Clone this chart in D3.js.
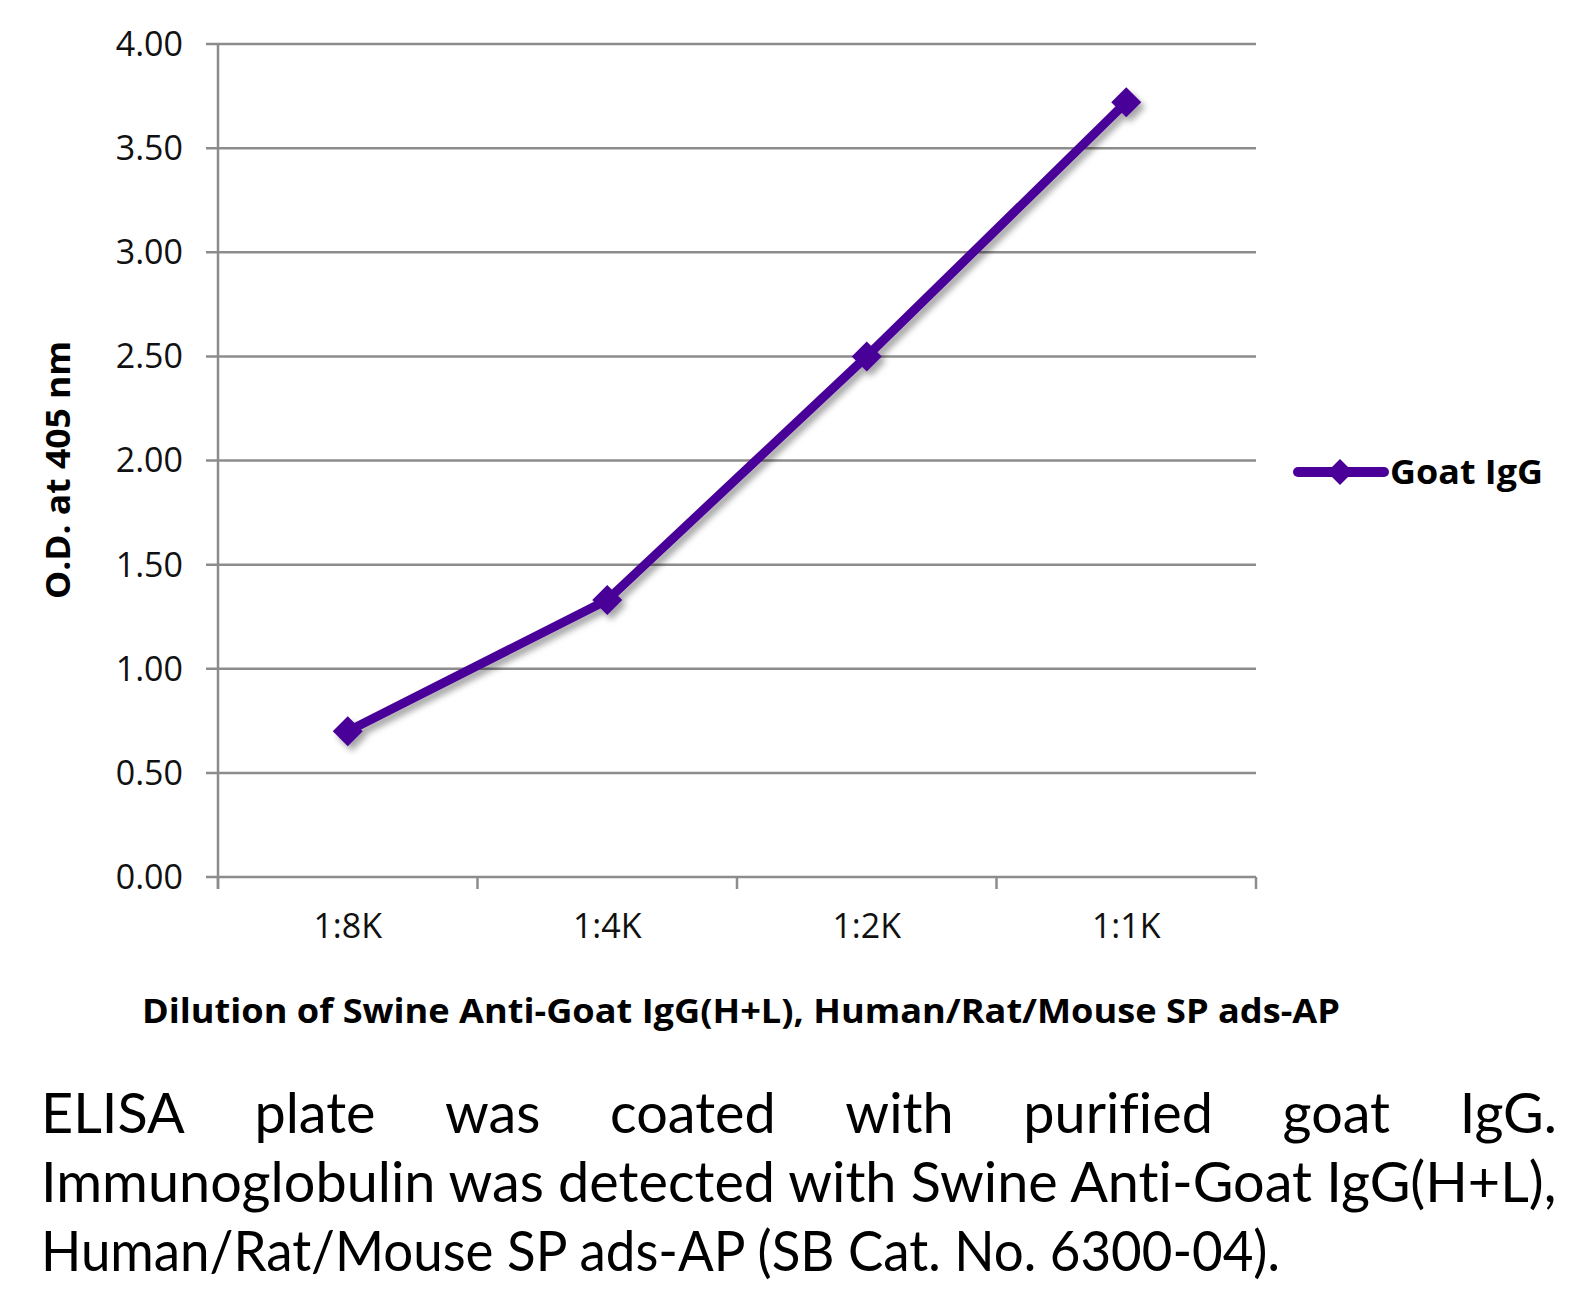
<!DOCTYPE html>
<html><head><meta charset="utf-8">
<script src="https://cdn.jsdelivr.net/npm/d3@7"></script>
<style>body{margin:0;background:#fff}svg{display:block}text{font-variant-ligatures:none}</style>
</head><body>
<svg id="c" width="1590" height="1306"></svg>
<script>
const categories = ["1:8K", "1:4K", "1:2K", "1:1K"];
const seriesName = "Goat IgG";
const values = [0.70, 1.33, 2.50, 3.72];
const yTicks = [0, 0.5, 1, 1.5, 2, 2.5, 3, 3.5, 4];
const yTitle = "O.D. at 405 nm";
const xTitle = "Dilution of Swine Anti-Goat IgG(H+L), Human/Rat/Mouse SP ads-AP";
const captionLines = [
  "ELISA plate was coated with purified goat IgG.",
  "Immunoglobulin was detected with Swine Anti-Goat IgG(H+L),",
  "Human/Rat/Mouse SP ads-AP (SB Cat. No. 6300-04)."
];

const svg = d3.select("#c");
const L = 218, R = 1256, T = 44, B = 877;
const x = d3.scaleBand().domain(categories).range([L, R]).padding(0);
const y = d3.scaleLinear().domain([0, 4]).range([B, T]);
const purple = "#4A0098", grid = "#8c8c8c";

const defs = svg.append("defs");
const f = defs.append("filter").attr("id","sh").attr("x","-20%").attr("y","-20%").attr("width","140%").attr("height","140%");
f.append("feDropShadow").attr("dx",4).attr("dy",5).attr("stdDeviation",3).attr("flood-color","#000").attr("flood-opacity",0.35);

// gridlines + y ticks
svg.append("g").selectAll("line").data(yTicks).join("line")
  .attr("x1", L - 12).attr("x2", R).attr("y1", d => y(d)).attr("y2", d => y(d))
  .attr("stroke", grid).attr("stroke-width", 2.5);
svg.append("g").selectAll("text").data(yTicks).join("text")
  .attr("x", 183).attr("y", d => y(d)).attr("dy", "0.35em").attr("text-anchor","end")
  .attr("font-family","Open Sans").attr("font-size", 34).attr("fill","#111")
  .text(d => d.toFixed(2));
// y axis line
svg.append("line").attr("x1",L).attr("x2",L).attr("y1",T).attr("y2",B+12).attr("stroke",grid).attr("stroke-width",2.5);
// x ticks at band boundaries
const bounds = categories.map(c => x(c)).concat([R]);
svg.append("g").selectAll("line").data(bounds).join("line")
  .attr("x1", d=>d).attr("x2", d=>d).attr("y1", B).attr("y2", B+12)
  .attr("stroke", grid).attr("stroke-width", 2.5);
svg.append("g").selectAll("text").data(categories).join("text")
  .attr("x", d => x(d) + x.bandwidth()/2).attr("y", 938).attr("text-anchor","middle")
  .attr("font-family","Open Sans").attr("font-size", 34).attr("fill","#111").text(d=>d);

// series
const pts = categories.map((c,i)=>({x: x(c)+x.bandwidth()/2, y: y(values[i])}));
const dia = (cx, cy, r) => `M${cx},${cy-r}L${cx+r},${cy}L${cx},${cy+r}L${cx-r},${cy}Z`;
const sg = svg.append("g").attr("filter","url(#sh)");
sg.append("path").attr("d", d3.line().x(d=>d.x).y(d=>d.y)(pts))
  .attr("fill","none").attr("stroke",purple).attr("stroke-width",9).attr("stroke-linejoin","round").attr("stroke-linecap","round");
sg.selectAll("path.m").data(pts).join("path").attr("class","m")
  .attr("d", d => dia(d.x, d.y, 15)).attr("fill", purple);

// legend
const ly = 472;
svg.append("line").attr("x1",1298).attr("x2",1384).attr("y1",ly).attr("y2",ly)
  .attr("stroke",purple).attr("stroke-width",10).attr("stroke-linecap","round");
svg.append("path").attr("d", dia(1340, ly, 13)).attr("fill", purple);
svg.append("text").attr("x",1390).attr("y",ly).attr("dy","0.36em")
  .attr("font-family","Open Sans").attr("font-weight","bold").attr("font-size",34)
  .attr("textLength",153).attr("lengthAdjust","spacingAndGlyphs").attr("fill","#000").text(seriesName);

// axis titles
svg.append("text").attr("transform","translate(70,470) rotate(-90)").attr("text-anchor","middle")
  .attr("font-family","Open Sans").attr("font-weight","bold").attr("font-size",34)
  .attr("textLength",258).attr("lengthAdjust","spacingAndGlyphs").attr("fill","#000").text(yTitle);
svg.append("text").attr("x",142).attr("y",1023)
  .attr("font-family","Open Sans").attr("font-weight","bold").attr("font-size",34)
  .attr("textLength",1198).attr("lengthAdjust","spacingAndGlyphs").attr("fill","#000").text(xTitle);

// caption
const capFont = "Lato";
const capX0 = 41, capX1 = 1557, line3End = 1280, capFs = 57, baselines = [1133, 1202, 1271];
function measure(s) {
  const t = svg.append("text").attr("font-family",capFont).attr("font-size",capFs).text(s);
  const l = t.node().getComputedTextLength(); t.remove(); return l;
}
const k = (capX1 - capX0) / measure(captionLines[1]);
const k3 = (line3End - capX0) / measure(captionLines[2]);
function put(s, x0, yb, kk) {
  svg.append("g").attr("transform", `translate(${x0},${yb}) scale(${kk},1)`)
    .append("text").attr("x",0).attr("y",0).attr("font-family",capFont).attr("font-size",capFs)
    .attr("fill","#000").text(s);
}
// line 1 justified word by word
const words = captionLines[0].split(" ");
const ww = words.map(w => measure(w) * k);
const gap = (capX1 - capX0 - d3.sum(ww)) / (words.length - 1);
let cx = capX0;
words.forEach((w,i) => { put(w, cx, baselines[0], k); cx += ww[i] + gap; });
put(captionLines[1], capX0, baselines[1], k);
put(captionLines[2], capX0, baselines[2], k3);
</script>
</body></html>
